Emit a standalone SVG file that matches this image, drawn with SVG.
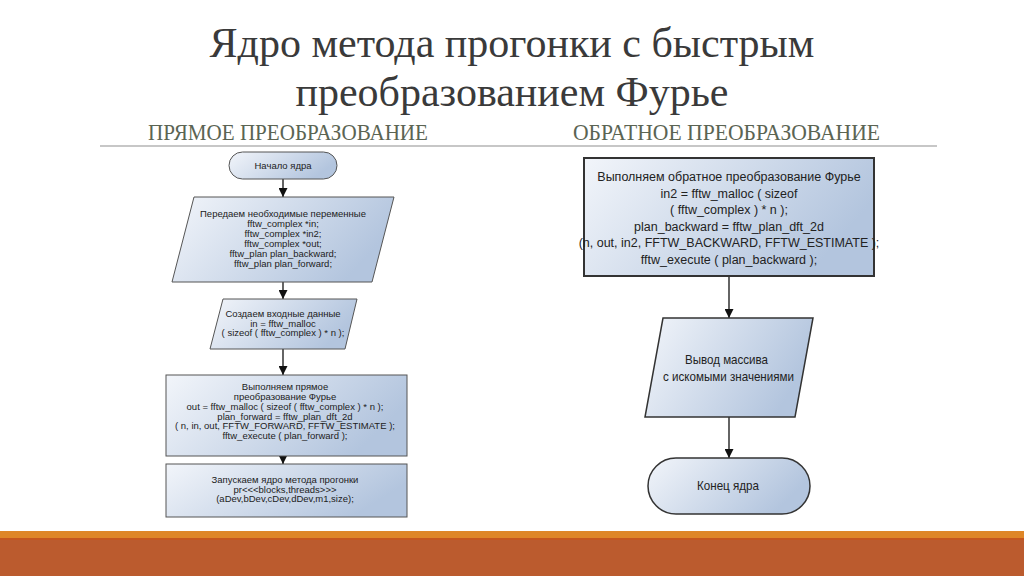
<svg xmlns="http://www.w3.org/2000/svg" width="1024" height="576" viewBox="0 0 1024 576">
<defs>
<linearGradient id="g" x1="0" y1="0" x2="1" y2="0.35">
<stop offset="0" stop-color="#f2f5fa"/>
<stop offset="1" stop-color="#b3c5de"/>
</linearGradient>
<marker id="ah" viewBox="0 0 10 10" refX="10" refY="5" markerWidth="9" markerHeight="9" markerUnits="userSpaceOnUse" orient="auto">
<path d="M0,0 L10,5 L0,10 z" fill="#111"/>
</marker>
<style>
.title{font-family:"Liberation Serif","Times New Roman",serif;font-size:42px;fill:#3a3a3a;text-anchor:middle}
.sub{font-family:"Liberation Serif","Times New Roman",serif;font-size:24px;fill:#5b6453}
.box{fill:url(#g);stroke:#555;stroke-width:1}
.boxr{fill:url(#g);stroke:#333;stroke-width:2}
.t{font-family:"Liberation Sans",Arial,sans-serif;font-size:9.5px;fill:#222;text-anchor:middle}
.tr{font-family:"Liberation Sans",Arial,sans-serif;font-size:12.5px;fill:#222;text-anchor:middle}
.tc{font-family:"Liberation Sans",Arial,sans-serif;font-size:13px;fill:#222}
.c{stroke:#111;stroke-width:1.3;fill:none;marker-end:url(#ah)}
</style>
</defs>
<rect width="1024" height="576" fill="#ffffff"/>
<text class="title" x="512" y="57">Ядро метода прогонки с быстрым</text>
<text class="title" x="512" y="106">преобразованием Фурье</text>
<text class="sub" x="148" y="140" textLength="280" lengthAdjust="spacingAndGlyphs">ПРЯМОЕ ПРЕОБРАЗОВАНИЕ</text>
<text class="sub" x="573" y="140" textLength="307" lengthAdjust="spacingAndGlyphs">ОБРАТНОЕ ПРЕОБРАЗОВАНИЕ</text>
<line x1="100" y1="146" x2="937" y2="146" stroke="#b5b5b5" stroke-width="1.5"/>

<g id="connectors">
<line class="c" x1="283" y1="179" x2="283" y2="197"/>
<line class="c" x1="283" y1="282" x2="283" y2="299"/>
<line class="c" x1="283" y1="349" x2="283" y2="375"/>
<line class="c" x1="283" y1="456" x2="283" y2="464"/>
<line class="c" x1="729" y1="276" x2="729" y2="318"/>
<line class="c" x1="729" y1="417" x2="729" y2="458"/>
</g>

<g id="start">
<rect class="box" x="229" y="152" width="108" height="27" rx="13.5"/>
<text class="t" x="283" y="169">Начало ядра</text>
</g>
<g id="vars">
<polygon class="box" points="194,197 394,197 372,282 172,282"/>
<text class="t" x="283" y="217">Передаем необходимые переменные</text>
<text class="t" x="283" y="227">fftw_complex *in;</text>
<text class="t" x="283" y="237">fftw_complex *in2;</text>
<text class="t" x="283" y="247">fftw_complex *out;</text>
<text class="t" x="283" y="257">fftw_plan plan_backward;</text>
<text class="t" x="283" y="267">fftw_plan plan_forward;</text>
</g>
<g id="input">
<polygon class="box" points="223,299 357,299 345,349 210,349"/>
<text class="t" x="283" y="317">Создаем входные данные</text>
<text class="t" x="283" y="326.5">in = fftw_malloc</text>
<text class="t" x="283" y="336">( sizeof ( fftw_complex ) * n );</text>
</g>
<g id="forward">
<rect class="box" x="166" y="375" width="241" height="81"/>
<text class="t" x="285" y="390">Выполняем прямое</text>
<text class="t" x="285" y="400">преобразование Фурье</text>
<text class="t" x="285" y="410">out = fftw_malloc ( sizeof ( fftw_complex ) * n );</text>
<text class="t" x="285" y="419.5">plan_forward = fftw_plan_dft_2d</text>
<text class="t" x="285" y="429">( n, in, out, FFTW_FORWARD, FFTW_ESTIMATE );</text>
<text class="t" x="285" y="438.5">fftw_execute ( plan_forward );</text>
</g>
<g id="kernel">
<rect class="box" x="166" y="464" width="241" height="53"/>
<text class="t" x="285" y="483">Запускаем ядро метода прогонки</text>
<text class="t" x="285" y="492.5">pr&lt;&lt;&lt;blocks,threads&gt;&gt;&gt;</text>
<text class="t" x="285" y="502">(aDev,bDev,cDev,dDev,m1,size);</text>
</g>

<g id="backward">
<rect class="boxr" x="584" y="158" width="290" height="118"/>
<text class="tr" x="729" y="181">Выполняем обратное преобразование Фурье</text>
<text class="tr" x="729" y="197.5">in2 = fftw_malloc ( sizeof</text>
<text class="tr" x="729" y="214">( fftw_complex ) * n );</text>
<text class="tr" x="729" y="230.5">plan_backward = fftw_plan_dft_2d</text>
<text class="tr" x="729" y="247">(n, out, in2, FFTW_BACKWARD, FFTW_ESTIMATE );</text>
<text class="tr" x="729" y="263.5">fftw_execute ( plan_backward );</text>
</g>
<g id="output">
<polygon class="box" style="stroke:#333;stroke-width:1.5" points="663,318 813,318 795,417 645,417"/>
<text class="tc" x="685" y="364" textLength="83" lengthAdjust="spacingAndGlyphs">Вывод массива</text>
<text class="tc" x="663" y="381" textLength="131" lengthAdjust="spacingAndGlyphs">с искомыми значениями</text>
</g>
<g id="end">
<rect class="box" style="stroke:#333;stroke-width:1.5" x="648" y="458" width="162" height="56" rx="28"/>
<text class="tc" x="697" y="490" textLength="62" lengthAdjust="spacingAndGlyphs">Конец ядра</text>
</g>

<rect x="0" y="531" width="1024" height="7" fill="#df8627"/>
<rect x="0" y="538" width="1024" height="38" fill="#bb5b2e"/>
<rect x="0" y="538" width="1024" height="2" fill="#c5561f"/>
</svg>
